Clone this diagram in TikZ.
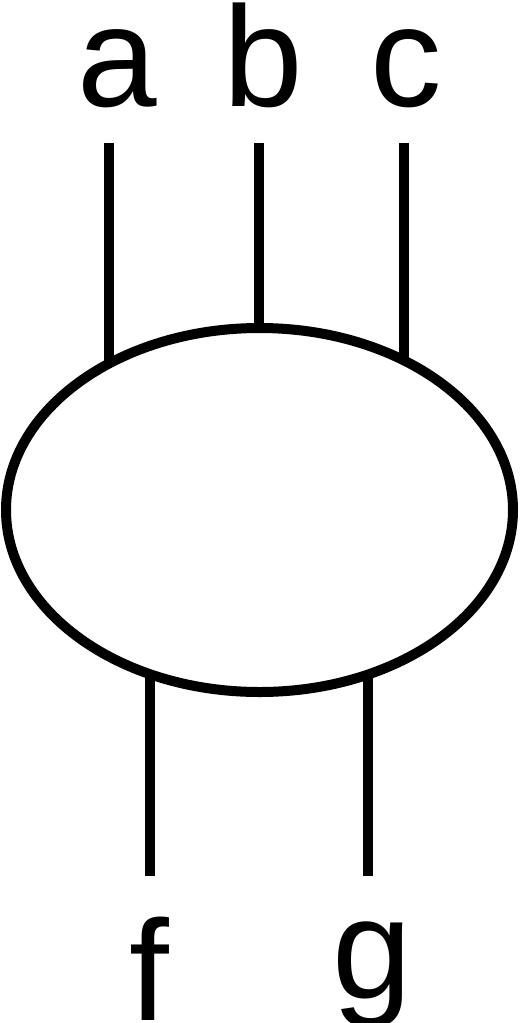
\documentclass[tikz,border=0pt]{standalone}
\usepackage{fontspec}
\setmainfont{Liberation Sans}
\usetikzlibrary{shapes,positioning}

\begin{document}
\begin{tikzpicture}[x=1pt, y=-1pt, line width=10pt,
    leg/.style={anchor=base, inner sep=0pt, font=\fontsize{143}{143}\selectfont}]
    \useasboundingbox (0,0) rectangle (527,1023);

    \node[draw, ellipse, minimum width=507pt, minimum height=364pt, inner sep=0pt, outer sep=0pt] (blob) at (259.5,510) {};

    \node[leg] (la) at (117.5,106) {a};
    \node[leg] (lb) at (263.5,106) {b};
    \node[leg] (lc) at (406,106) {c};
    \node[leg] (lf) at (149,1020) {f};
    \node[leg] (lg) at (372,998) {g};

    \coordinate (ta) at (109,143);
    \coordinate (tb) at (259,143);
    \coordinate (tc) at (404,143);
    \coordinate (bf) at (150,876);
    \coordinate (bg) at (368,876);

    \draw (ta) -- (ta |- blob.136);
    \draw (tb) -- (tb |- blob.north);
    \draw (tc) -- (tc |- blob.46);
    \draw (bf) -- (bf |- blob.236);
    \draw (bg) -- (bg |- blob.303);
\end{tikzpicture}
\end{document}
